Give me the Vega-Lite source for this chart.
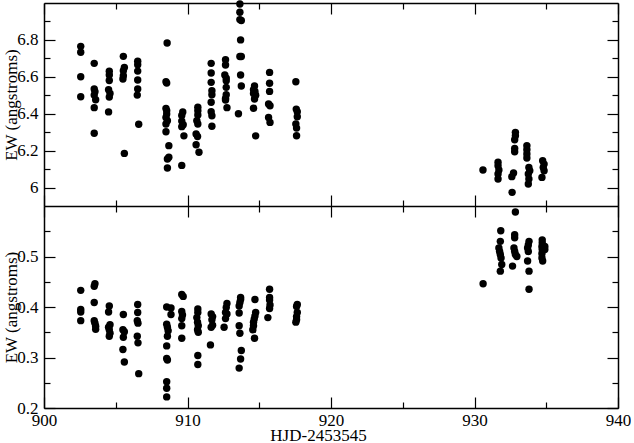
{
"$schema": "https://vega.github.io/schema/vega-lite/v6.json",
"padding": {"left": 2, "top": 0, "right": 0, "bottom": 0},
"spacing": 0,
"bounds": "flush",
"datasets": {
"top": [
{"hjd":902.56,"ew":6.765},{"hjd":902.56,"ew":6.733},{"hjd":902.56,"ew":6.60},{"hjd":902.56,"ew":6.492},
{"hjd":903.5,"ew":6.673},{"hjd":903.5,"ew":6.534},{"hjd":903.55,"ew":6.519},{"hjd":903.5,"ew":6.501},{"hjd":903.6,"ew":6.476},{"hjd":903.5,"ew":6.433},{"hjd":903.5,"ew":6.294},
{"hjd":904.55,"ew":6.63},{"hjd":904.55,"ew":6.61},{"hjd":904.55,"ew":6.58},{"hjd":904.5,"ew":6.53},{"hjd":904.6,"ew":6.51},{"hjd":904.55,"ew":6.49},{"hjd":904.5,"ew":6.41},
{"hjd":905.53,"ew":6.711},{"hjd":905.6,"ew":6.651},{"hjd":905.53,"ew":6.633},{"hjd":905.53,"ew":6.606},{"hjd":905.5,"ew":6.588},{"hjd":905.6,"ew":6.185},
{"hjd":906.53,"ew":6.684},{"hjd":906.53,"ew":6.666},{"hjd":906.53,"ew":6.631},{"hjd":906.53,"ew":6.583},{"hjd":906.53,"ew":6.534},{"hjd":906.5,"ew":6.501},{"hjd":906.6,"ew":6.343},
{"hjd":908.58,"ew":6.783},{"hjd":908.5,"ew":6.573},{"hjd":908.55,"ew":6.566},{"hjd":908.5,"ew":6.429},{"hjd":908.55,"ew":6.416},{"hjd":908.55,"ew":6.398},{"hjd":908.5,"ew":6.380},{"hjd":908.6,"ew":6.362},{"hjd":908.5,"ew":6.344},{"hjd":908.5,"ew":6.302},{"hjd":908.7,"ew":6.227},{"hjd":908.7,"ew":6.164},{"hjd":908.6,"ew":6.155},{"hjd":908.6,"ew":6.106},
{"hjd":909.67,"ew":6.41},{"hjd":909.6,"ew":6.39},{"hjd":909.6,"ew":6.36},{"hjd":909.7,"ew":6.34},{"hjd":909.6,"ew":6.33},{"hjd":909.75,"ew":6.28},{"hjd":909.6,"ew":6.12},
{"hjd":910.72,"ew":6.435},{"hjd":910.72,"ew":6.416},{"hjd":910.72,"ew":6.393},{"hjd":910.65,"ew":6.362},{"hjd":910.72,"ew":6.344},{"hjd":910.6,"ew":6.290},{"hjd":910.7,"ew":6.277},{"hjd":910.6,"ew":6.232},{"hjd":910.8,"ew":6.191},
{"hjd":911.65,"ew":6.673},{"hjd":911.65,"ew":6.621},{"hjd":911.65,"ew":6.570},{"hjd":911.7,"ew":6.525},{"hjd":911.7,"ew":6.503},{"hjd":911.65,"ew":6.462},{"hjd":911.65,"ew":6.411},{"hjd":911.7,"ew":6.389},{"hjd":911.7,"ew":6.332},
{"hjd":912.65,"ew":6.693},{"hjd":912.65,"ew":6.664},{"hjd":912.6,"ew":6.610},{"hjd":912.7,"ew":6.593},{"hjd":912.7,"ew":6.579},{"hjd":912.7,"ew":6.543},{"hjd":912.7,"ew":6.503},{"hjd":912.65,"ew":6.483},{"hjd":912.65,"ew":6.474},{"hjd":912.75,"ew":6.433},
{"hjd":913.65,"ew":6.995},{"hjd":913.65,"ew":6.95},{"hjd":913.65,"ew":6.91},{"hjd":913.75,"ew":6.905},{"hjd":913.7,"ew":6.80},{"hjd":913.65,"ew":6.71},{"hjd":913.75,"ew":6.71},{"hjd":913.7,"ew":6.61},{"hjd":913.75,"ew":6.55},{"hjd":913.55,"ew":6.40},
{"hjd":914.67,"ew":6.55},{"hjd":914.6,"ew":6.53},{"hjd":914.7,"ew":6.52},{"hjd":914.6,"ew":6.51},{"hjd":914.75,"ew":6.50},{"hjd":914.67,"ew":6.48},{"hjd":914.6,"ew":6.43},{"hjd":914.75,"ew":6.28},
{"hjd":915.72,"ew":6.624},{"hjd":915.72,"ew":6.565},{"hjd":915.72,"ew":6.521},{"hjd":915.65,"ew":6.453},{"hjd":915.75,"ew":6.443},{"hjd":915.65,"ew":6.380},{"hjd":915.75,"ew":6.353},
{"hjd":917.55,"ew":6.573},{"hjd":917.58,"ew":6.425},{"hjd":917.65,"ew":6.411},{"hjd":917.65,"ew":6.384},{"hjd":917.55,"ew":6.344},{"hjd":917.6,"ew":6.322},{"hjd":917.6,"ew":6.281},
{"hjd":930.59,"ew":6.095},
{"hjd":931.64,"ew":6.137},{"hjd":931.64,"ew":6.118},{"hjd":931.7,"ew":6.095},{"hjd":931.64,"ew":6.073},{"hjd":931.64,"ew":6.046},
{"hjd":932.62,"ew":5.974},{"hjd":932.72,"ew":6.079},{"hjd":932.6,"ew":6.059},
{"hjd":932.85,"ew":6.299},{"hjd":932.85,"ew":6.281},{"hjd":932.8,"ew":6.259},{"hjd":932.8,"ew":6.212},{"hjd":932.8,"ew":6.194},
{"hjd":933.65,"ew":6.227},{"hjd":933.65,"ew":6.205},{"hjd":933.65,"ew":6.182},{"hjd":933.65,"ew":6.160},
{"hjd":933.79,"ew":6.109},{"hjd":933.85,"ew":6.091},{"hjd":933.75,"ew":6.073},{"hjd":933.79,"ew":6.046},{"hjd":933.75,"ew":6.019},
{"hjd":934.75,"ew":6.145},{"hjd":934.85,"ew":6.127},{"hjd":934.79,"ew":6.109},{"hjd":934.85,"ew":6.091},{"hjd":934.7,"ew":6.055}
],
"bottom": [
{"hjd":902.56,"ew":0.433},{"hjd":902.56,"ew":0.395},{"hjd":902.56,"ew":0.390},{"hjd":902.56,"ew":0.373},
{"hjd":903.55,"ew":0.446},{"hjd":903.5,"ew":0.441},{"hjd":903.5,"ew":0.409},{"hjd":903.5,"ew":0.373},{"hjd":903.55,"ew":0.368},{"hjd":903.6,"ew":0.362},{"hjd":903.6,"ew":0.356},
{"hjd":904.55,"ew":0.402},{"hjd":904.5,"ew":0.390},{"hjd":904.6,"ew":0.365},{"hjd":904.5,"ew":0.360},{"hjd":904.55,"ew":0.355},{"hjd":904.6,"ew":0.348},{"hjd":904.55,"ew":0.342},
{"hjd":905.53,"ew":0.385},{"hjd":905.5,"ew":0.355},{"hjd":905.6,"ew":0.351},{"hjd":905.53,"ew":0.340},{"hjd":905.5,"ew":0.316},{"hjd":905.6,"ew":0.291},
{"hjd":906.53,"ew":0.405},{"hjd":906.53,"ew":0.389},{"hjd":906.5,"ew":0.373},{"hjd":906.55,"ew":0.368},{"hjd":906.5,"ew":0.342},{"hjd":906.55,"ew":0.329},{"hjd":906.6,"ew":0.268},
{"hjd":908.55,"ew":0.400},{"hjd":908.55,"ew":0.366},{"hjd":908.6,"ew":0.360},{"hjd":908.65,"ew":0.353},{"hjd":908.6,"ew":0.342},{"hjd":908.55,"ew":0.323},{"hjd":908.55,"ew":0.298},{"hjd":908.6,"ew":0.295},{"hjd":908.55,"ew":0.252},{"hjd":908.55,"ew":0.239},{"hjd":908.55,"ew":0.222},
{"hjd":908.85,"ew":0.398},{"hjd":908.85,"ew":0.385},
{"hjd":909.6,"ew":0.425},{"hjd":909.7,"ew":0.421},{"hjd":909.6,"ew":0.391},{"hjd":909.65,"ew":0.384},{"hjd":909.6,"ew":0.377},{"hjd":909.6,"ew":0.363},{"hjd":909.6,"ew":0.338},
{"hjd":910.72,"ew":0.396},{"hjd":910.72,"ew":0.389},{"hjd":910.65,"ew":0.379},{"hjd":910.7,"ew":0.370},{"hjd":910.75,"ew":0.363},{"hjd":910.7,"ew":0.355},{"hjd":910.75,"ew":0.350},{"hjd":910.72,"ew":0.304},{"hjd":910.72,"ew":0.286},
{"hjd":911.65,"ew":0.386},{"hjd":911.75,"ew":0.381},{"hjd":911.7,"ew":0.375},{"hjd":911.75,"ew":0.364},{"hjd":911.65,"ew":0.360},{"hjd":911.6,"ew":0.325},
{"hjd":912.75,"ew":0.407},{"hjd":912.7,"ew":0.399},{"hjd":912.65,"ew":0.389},{"hjd":912.75,"ew":0.386},{"hjd":912.65,"ew":0.377},{"hjd":912.55,"ew":0.360},
{"hjd":913.7,"ew":0.419},{"hjd":913.7,"ew":0.415},{"hjd":913.65,"ew":0.409},{"hjd":913.6,"ew":0.402},{"hjd":913.6,"ew":0.388},{"hjd":913.6,"ew":0.363},{"hjd":913.65,"ew":0.348},{"hjd":913.75,"ew":0.314},{"hjd":913.7,"ew":0.297},{"hjd":913.6,"ew":0.279},
{"hjd":914.7,"ew":0.415},{"hjd":914.75,"ew":0.389},{"hjd":914.7,"ew":0.382},{"hjd":914.65,"ew":0.376},{"hjd":914.6,"ew":0.370},{"hjd":914.6,"ew":0.363},{"hjd":914.55,"ew":0.355},{"hjd":914.67,"ew":0.338},
{"hjd":915.72,"ew":0.435},{"hjd":915.72,"ew":0.419},{"hjd":915.72,"ew":0.414},{"hjd":915.75,"ew":0.404},{"hjd":915.72,"ew":0.397},{"hjd":915.6,"ew":0.379},
{"hjd":917.65,"ew":0.405},{"hjd":917.6,"ew":0.401},{"hjd":917.65,"ew":0.389},{"hjd":917.6,"ew":0.381},{"hjd":917.6,"ew":0.375},{"hjd":917.55,"ew":0.370},
{"hjd":930.6,"ew":0.446},
{"hjd":931.83,"ew":0.551},{"hjd":931.8,"ew":0.530},{"hjd":931.7,"ew":0.517},{"hjd":931.75,"ew":0.510},{"hjd":931.8,"ew":0.504},{"hjd":931.85,"ew":0.497},{"hjd":931.9,"ew":0.484},{"hjd":931.8,"ew":0.471},
{"hjd":932.65,"ew":0.481},
{"hjd":932.8,"ew":0.543},{"hjd":932.8,"ew":0.537},{"hjd":932.75,"ew":0.517},{"hjd":932.8,"ew":0.510},{"hjd":932.85,"ew":0.504},{"hjd":932.95,"ew":0.500},{"hjd":932.85,"ew":0.588},
{"hjd":933.8,"ew":0.530},{"hjd":933.75,"ew":0.523},{"hjd":933.7,"ew":0.517},{"hjd":933.75,"ew":0.510},{"hjd":933.7,"ew":0.491},{"hjd":933.8,"ew":0.471},{"hjd":933.8,"ew":0.435},
{"hjd":934.72,"ew":0.533},{"hjd":934.72,"ew":0.527},{"hjd":934.7,"ew":0.520},{"hjd":934.72,"ew":0.514},{"hjd":934.7,"ew":0.506},{"hjd":934.7,"ew":0.497},{"hjd":934.75,"ew":0.491},
{"hjd":934.9,"ew":0.520},{"hjd":934.9,"ew":0.514}
]
},
"vconcat": [
{
"width": 574, "height": 203,
"data": {"name": "top"},
"layer": [
{"mark": {"type": "point", "filled": true, "color": "black", "opacity": 1, "size": 55},
 "encoding": {
  "x": {"field": "hjd", "type": "quantitative", "scale": {"domain": [900, 940], "nice": false, "zero": false},
        "axis": {"orient": "bottom", "values": [900, 910, 920, 930, 940], "labels": false, "title": null, "ticks": true, "tickSize": -11, "zindex": 2}},
  "y": {"field": "ew", "type": "quantitative", "scale": {"domain": [5.9, 7.0], "nice": false, "zero": false},
        "axis": {"orient": "left", "values": [6, 6.2, 6.4, 6.6, 6.8], "format": "~g", "ticks": true, "tickSize": -11, "labelPadding": 17, "zindex": 2,
                 "title": "EW (angstroms)", "titleX": -28, "titleY": 101.5, "titleBaseline": "alphabetic", "titleAngle": 270}}
 }},
{"mark": {"type": "point", "opacity": 0},
 "encoding": {
  "x": {"field": "hjd", "type": "quantitative", "axis": {"orient": "top", "values": [900, 910, 920, 930, 940], "labels": false, "title": null, "ticks": true, "tickSize": -11, "zindex": 2}},
  "y": {"field": "ew", "type": "quantitative", "axis": {"orient": "right", "values": [6, 6.2, 6.4, 6.6, 6.8], "labels": false, "title": null, "ticks": true, "tickSize": -11, "zindex": 2}}
 }},
{"mark": {"type": "point", "opacity": 0},
 "encoding": {
  "x": {"field": "hjd", "type": "quantitative", "axis": {"orient": "bottom", "domain": false, "values": [905, 915, 925, 935], "labels": false, "title": null, "ticks": true, "tickSize": -6, "zindex": 2}},
  "y": {"field": "ew", "type": "quantitative", "axis": {"orient": "left", "domain": false, "values": [6.1, 6.3, 6.5, 6.7, 6.9], "labels": false, "title": null, "ticks": true, "tickSize": -6, "zindex": 2}}
 }},
{"mark": {"type": "point", "opacity": 0},
 "encoding": {
  "x": {"field": "hjd", "type": "quantitative", "axis": {"orient": "top", "domain": false, "values": [905, 915, 925, 935], "labels": false, "title": null, "ticks": true, "tickSize": -6, "zindex": 2}},
  "y": {"field": "ew", "type": "quantitative", "axis": {"orient": "right", "domain": false, "values": [6.1, 6.3, 6.5, 6.7, 6.9], "labels": false, "title": null, "ticks": true, "tickSize": -6, "zindex": 2}}
 }}
],
"resolve": {"axis": {"x": "independent", "y": "independent"}}
},
{
"width": 574, "height": 202,
"data": {"name": "bottom"},
"layer": [
{"mark": {"type": "point", "filled": true, "color": "black", "opacity": 1, "size": 55},
 "encoding": {
  "x": {"field": "hjd", "type": "quantitative", "scale": {"domain": [900, 940], "nice": false, "zero": false},
        "axis": {"orient": "bottom", "values": [900, 910, 920, 930, 940], "ticks": true, "tickSize": -11, "labelPadding": 15, "format": "d", "zindex": 2,
                 "title": "HJD-2453545", "titleX": 274, "titleY": 32, "titleBaseline": "alphabetic"}},
  "y": {"field": "ew", "type": "quantitative", "scale": {"domain": [0.2, 0.6], "nice": false, "zero": false},
        "axis": {"orient": "left", "values": [0.2, 0.3, 0.4, 0.5], "format": "~g", "ticks": true, "tickSize": -11, "labelPadding": 17, "zindex": 2,
                 "title": "EW (angstroms)", "titleX": -28, "titleY": 101, "titleBaseline": "alphabetic", "titleAngle": 270}}
 }},
{"mark": {"type": "point", "opacity": 0},
 "encoding": {
  "x": {"field": "hjd", "type": "quantitative", "axis": {"orient": "top", "domain": false, "values": [900, 910, 920, 930, 940], "labels": false, "title": null, "ticks": true, "tickSize": -11, "zindex": 2}},
  "y": {"field": "ew", "type": "quantitative", "axis": {"orient": "right", "values": [0.2, 0.3, 0.4, 0.5], "labels": false, "title": null, "ticks": true, "tickSize": -11, "zindex": 2}}
 }},
{"mark": {"type": "point", "opacity": 0},
 "encoding": {
  "x": {"field": "hjd", "type": "quantitative", "axis": {"orient": "bottom", "domain": false, "values": [905, 915, 925, 935], "labels": false, "title": null, "ticks": true, "tickSize": -6, "zindex": 2}},
  "y": {"field": "ew", "type": "quantitative", "axis": {"orient": "left", "domain": false, "values": [0.25, 0.35, 0.45, 0.55], "labels": false, "title": null, "ticks": true, "tickSize": -6, "zindex": 2}}
 }},
{"mark": {"type": "point", "opacity": 0},
 "encoding": {
  "x": {"field": "hjd", "type": "quantitative", "axis": {"orient": "top", "domain": false, "values": [905, 915, 925, 935], "labels": false, "title": null, "ticks": true, "tickSize": -6, "zindex": 2}},
  "y": {"field": "ew", "type": "quantitative", "axis": {"orient": "right", "domain": false, "values": [0.25, 0.35, 0.45, 0.55], "labels": false, "title": null, "ticks": true, "tickSize": -6, "zindex": 2}}
 }}
],
"resolve": {"axis": {"x": "independent", "y": "independent"}}
}
],
"config": {
 "background": "white",
 "view": {"stroke": null, "fill": null},
 "axis": {"grid": false, "domainColor": "black", "domainWidth": 1.5, "tickColor": "black", "tickWidth": 1.2, "tickOpacity": 1,
          "labelColor": "black", "titleColor": "black", "labelFont": "Liberation Serif", "titleFont": "Liberation Serif",
          "labelFontSize": 17, "titleFontSize": 17, "titleFontWeight": "normal", "labelFlush": false, "labelOverlap": false, "labelBound": false}
}
}
